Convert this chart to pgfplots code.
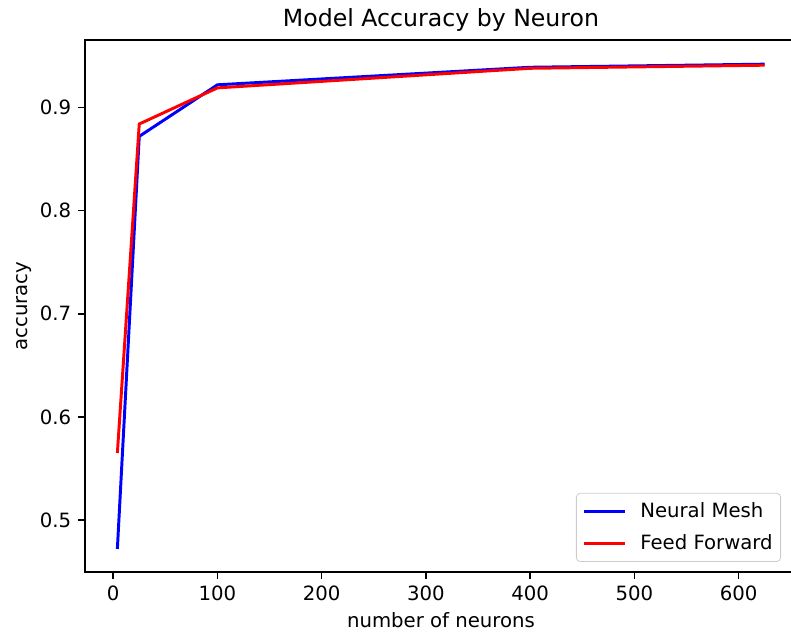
\documentclass[border=0pt]{standalone}
\usepackage{fontspec}
\setmainfont{DejaVu Sans}
\usepackage{pgfplots}
\pgfplotsset{compat=1.18}

\def\px{0.508pt}

\begin{document}
\begin{tikzpicture}
\begin{axis}[
    name=ax,
    scale only axis,
    width=361.7pt, height=270.3pt,
    xmin=-27.05, xmax=656.05,
    ymin=0.44955, ymax=0.96545,
    xtick={0,100,...,600},
    ytick={0.5,0.6,0.7,0.8,0.9},
    tick align=outside,
    tick pos=left,
    major tick length=3.5pt,
    axis line style={line width=0.8pt},
    every tick/.style={black, line width=0.8pt},
    /pgf/number format/assume math mode=true,
    yticklabel style={/pgf/number format/fixed, /pgf/number format/fixed zerofill, /pgf/number format/precision=1},
    tick label style={font=\fontsize{10}{12}\selectfont},
    label style={font=\fontsize{10}{12}\selectfont},
    xlabel={number of neurons},
    ylabel={accuracy},
    xlabel style={at={(axis description cs:0.5,0)}, anchor=base, yshift=-28.4pt},
    ylabel style={at={(axis description cs:0,0.5)}, anchor=base, rotate=0, yshift=29pt},
    title={Model Accuracy by Neuron},
    title style={at={(axis description cs:0.5,1)}, anchor=base, yshift=1.1pt, font=\fontsize{12}{14}\selectfont},
    legend style={at={(axis description cs:0.9775,0.019)}, anchor=south east,
        draw=black!20, rounded corners=2pt, fill=white,
        font=\fontsize{10}{12}\selectfont, row sep=3.5pt,
        inner xsep=2pt, inner ysep=2.5pt},
    legend cell align=left,
    legend image code/.code={
        \draw[#1, line width=1.5pt] (0pt,0pt) -- (21pt,0pt);
        \path (-1pt,0pt) (26pt,0pt);},
]
\addplot[blue, line width=1.5pt] coordinates {(4,0.472) (25,0.872) (100,0.922) (400,0.939) (625,0.942)};
\addplot[red, line width=1.5pt] coordinates {(4,0.565) (25,0.884) (100,0.919) (400,0.938) (625,0.941)};
\legend{Neural Mesh, Feed Forward}
\end{axis}
\pgfresetboundingbox
\path[use as bounding box] ([xshift=-85*\px, yshift=-67*\px]ax.south west) rectangle ([xshift=706*\px, yshift=40*\px]ax.north west);
\end{tikzpicture}
\end{document}
